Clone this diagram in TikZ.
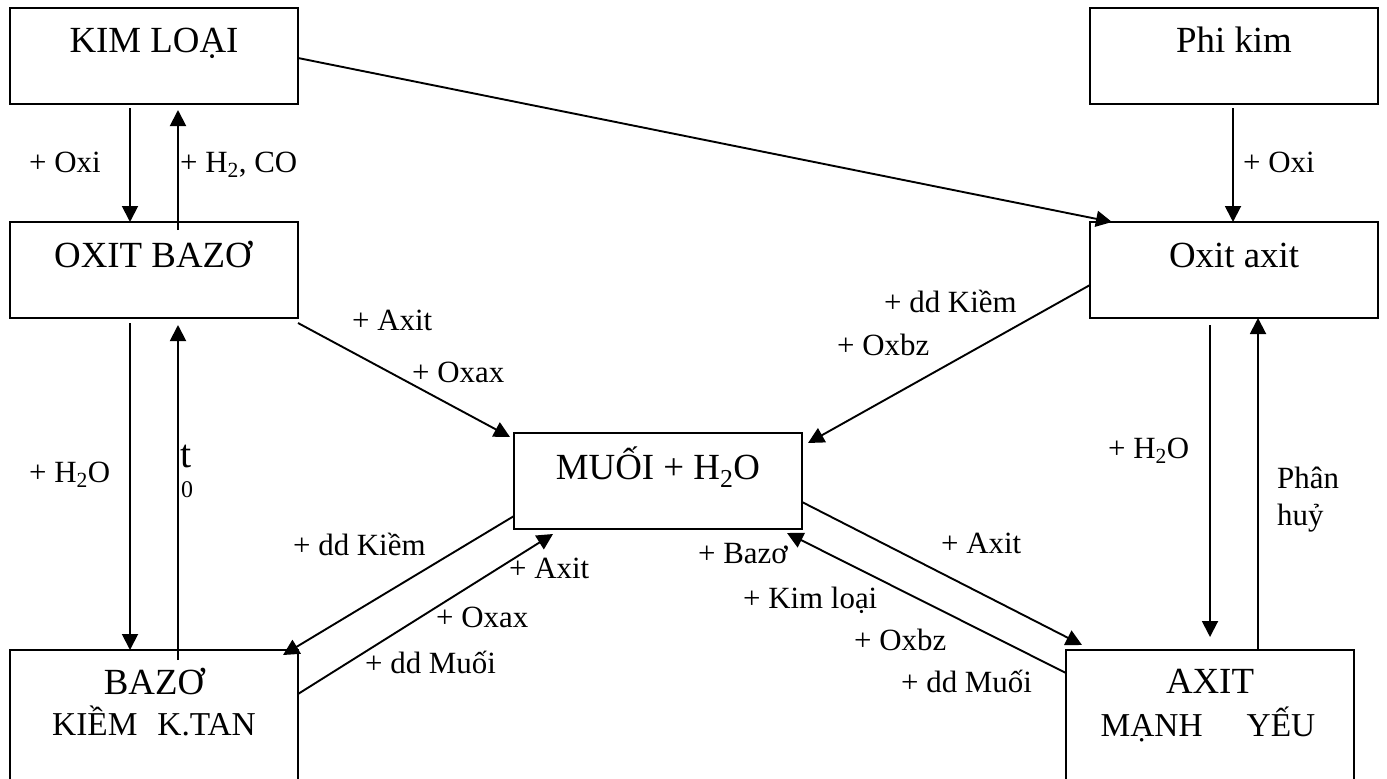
\documentclass[tikz,border=0pt]{standalone}
\usepackage{fontspec}
\setmainfont{Liberation Serif}
\usetikzlibrary{arrows.meta}
\begin{document}
\begin{tikzpicture}[x=1bp,y=-1bp,
  box/.style={draw, line width=2bp, minimum width=288bp, minimum height=96bp, inner sep=0pt, outer sep=0pt},
  tallbox/.style={box, minimum height=160bp},
  big/.style={font=\fontsize{37}{40}\selectfont, inner sep=0pt, anchor=base},
  mid/.style={font=\fontsize{33.5}{38}\selectfont, inner sep=0pt, anchor=base},
  lbl/.style={font=\fontsize{31}{34}\selectfont, inner sep=0pt, anchor=base west},
  arr/.style={line width=1.9bp, -{Triangle[length=16bp,width=16bp]}},
  ln/.style={line width=1.9bp}]
\useasboundingbox (0,0) rectangle (1387,778);
% boxes
\node[box] (kim) at (154,56) {};
\node[box] (phi) at (1234,56) {};
\node[box] (oxb) at (154,270) {};
\node[box] (oxa) at (1234,270) {};
\node[box] (muoi) at (658,481) {};
\node[tallbox] (baz) at (154,730) {};
\node[tallbox] (axit) at (1210,730) {};
% box texts
\node[big] (kimT) at (154,53) {KIM LOẠI};
\node[big] (phiT) at (1234,53) {Phi kim};
\node[big] (oxbT) at (153,267) {OXIT BAZƠ};
\node[big] (oxaT) at (1234,267) {Oxit axit};
\node[big] (muoiT) at (658,479) {MUỐI + H\textsubscript{2}O};
\node[big] (bazT) at (154,694) {BAZƠ};
\node[mid] (bazT2) at (154,735) {KIỀM\hspace{20bp}K.TAN};
\node[big] (axitT) at (1210,693) {AXIT};
\node[mid] (axitT2) at (1208,736) {MẠNH\hspace{44bp}YẾU};
% connectors
\draw[arr] ([xshift=-24bp,yshift=-4bp]kim.south) -- ([xshift=-24bp]oxb.north);
\draw[arr] ([xshift=24bp,yshift=-8bp]oxb.north) -- ([xshift=24bp,yshift=-6bp]kim.south);
\draw[arr] ([yshift=-2bp]kim.east) -- ([xshift=22bp]oxa.north west);
\draw[arr] ([xshift=-1bp,yshift=-4bp]phi.south) -- ([xshift=-1bp]oxa.north);
\draw[arr] ([xshift=-24bp,yshift=-5bp]oxb.south) -- ([xshift=-24bp]baz.north);
\draw[arr] ([xshift=24bp,yshift=-10bp]baz.north) -- ([xshift=24bp,yshift=-7bp]oxb.south);
\draw[arr] ([xshift=-24bp,yshift=-7bp]oxa.south) -- ([yshift=13bp]axit.north);
\draw[arr] ([xshift=48bp]axit.north) -- ([xshift=24bp]oxa.south);
\draw[arr] ([yshift=-5bp]oxb.south east) -- ([xshift=-4bp,yshift=-4bp]muoi.north west);
\draw[arr] ([yshift=-15bp]oxa.west) -- ([xshift=6bp,yshift=-10bp]muoi.north east);
\draw[arr] ([yshift=13bp]muoi.south west) -- ([xshift=-15bp,yshift=-5bp]baz.north east);
\draw[arr] ([yshift=-44bp]baz.north east) -- ([xshift=39bp,yshift=-5bp]muoi.south west);
\draw[arr] ([yshift=27bp]muoi.south east) -- ([xshift=16bp,yshift=5bp]axit.north west);
\draw[arr] ([yshift=-23bp]axit.north west) -- ([xshift=-15bp,yshift=-4bp]muoi.south east);
% edge labels
\node[lbl] (l1) at (29,172) {+ Oxi};
\node[lbl] (l2) at (180,172) {+ H\textsubscript{2}, CO};
\node[lbl] (l3) at (1243,172) {+ Oxi};
\node[lbl] (l4) at (29,482) {+ H\textsubscript{2}O};
\node[lbl, font=\fontsize{40}{44}\selectfont] (l5) at (180,467) {t};
\node[lbl, font=\fontsize{24}{28}\selectfont] (l6) at (181,497) {0};
\node[lbl] (l7) at (352,330) {+ Axit};
\node[lbl] (l8) at (412,382) {+ Oxax};
\node[lbl] (l9) at (884,312) {+ dd Kiềm};
\node[lbl] (l10) at (837,355) {+ Oxbz};
\node[lbl] (l11) at (1108,458) {+ H\textsubscript{2}O};
\node[lbl] (l12) at (1277,488) {Phân};
\node[lbl] (l13) at (1277,525) {huỷ};
\node[lbl] (l14) at (293,555) {+ dd Kiềm};
\node[lbl] (l15) at (509,578) {+ Axit};
\node[lbl] (l16) at (436,627) {+ Oxax};
\node[lbl] (l17) at (365,673) {+ dd Muối};
\node[lbl] (l18) at (698,563) {+ Bazơ};
\node[lbl] (l19) at (743,608) {+ Kim loại};
\node[lbl] (l20) at (854,650) {+ Oxbz};
\node[lbl] (l21) at (901,692) {+ dd Muối};
\node[lbl] (l22) at (941,553) {+ Axit};
\end{tikzpicture}
\end{document}
